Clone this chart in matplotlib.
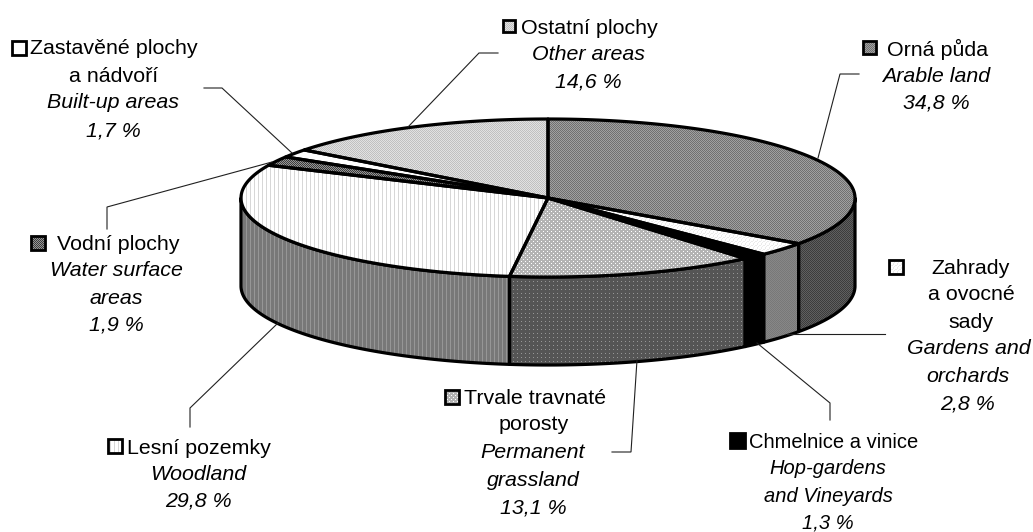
import numpy as np
import matplotlib
matplotlib.use("Agg")
import matplotlib.pyplot as plt
from matplotlib.patches import Polygon, Rectangle

plt.rcParams["font.family"] = ["Liberation Sans", "DejaVu Sans"]

# values, clockwise from 12 o'clock
categories = ["Orná půda", "Zahrady a ovocné sady", "Chmelnice a vinice",
              "Trvale travnaté porosty", "Lesní pozemky", "Vodní plochy",
              "Zastavěné plochy a nádvoří", "Ostatní plochy"]
shares = [34.8, 2.8, 1.3, 13.1, 29.8, 1.9, 1.7, 14.6]

# dither tiles (grey levels), repeated over the image
top_tiles = [
    [[112, 160], [160, 112]],
    [[255, 235, 255, 255], [235, 255, 255, 235], [255, 255, 235, 255], [255, 235, 255, 255]],
    [[0]],
    [[180, 180, 180, 180], [180, 255, 180, 180], [180, 180, 180, 180], [180, 180, 180, 255]],
    [[255, 255, 215, 255]],
    [[60, 150], [150, 60]],
    [[255]],
    [[192, 225], [225, 192]],
]
side_tiles = [
    [[60, 95], [95, 60]],
    [[120, 135], [135, 120]],
    [[0]],
    [[85, 85, 85, 85], [85, 150, 85, 85], [85, 85, 85, 85], [85, 85, 85, 85]],
    [[120, 120, 150, 120]],
]

CX, CY, RX, RY, DEPTH = 548, 198, 307, 79, 88
W, H = 1033, 532

fig = plt.figure(figsize=(W / 100, H / 100), dpi=100)
ax = fig.add_axes([0, 0, 1, 1])
ax.set_xlim(0, W)
ax.set_ylim(H, 0)
ax.axis("off")


def rim(a, b, dy=0.0):
    t = np.radians(np.linspace(a, b, 120))
    return np.column_stack([CX + RX * np.sin(t), CY + dy - RY * np.cos(t)])


def textured(poly, tile, zorder):
    tile = np.array(tile)
    img = np.tile(tile, (H // tile.shape[0] + 1, W // tile.shape[1] + 1))[:H, :W]
    im = ax.imshow(img, cmap="gray", vmin=0, vmax=255, extent=(0, W, H, 0),
                   interpolation="nearest", aspect="auto", zorder=zorder)
    patch = Polygon(poly, closed=True, transform=ax.transData, fc="none", ec="none")
    ax.add_patch(patch)
    im.set_clip_path(patch)


edges = np.concatenate([[0], np.cumsum(shares)]) * 3.6

# sides only for the front half of the drum
for i, tile in enumerate(side_tiles):
    a, b = max(edges[i], 90), min(edges[i + 1], 270)
    poly = np.vstack([rim(a, b), rim(b, a, DEPTH)])
    textured(poly, tile, 1)
    ax.add_patch(Polygon(poly, closed=True, fc="none", ec="black", lw=2.3,
                         joinstyle="round", zorder=2))

# top of the pie
for i, tile in enumerate(top_tiles):
    poly = np.vstack([[CX, CY], rim(edges[i], edges[i + 1])])
    textured(poly, tile, 3)
    ax.add_patch(Polygon(poly, closed=True, fc="none", ec="black", lw=2.3,
                         joinstyle="round", zorder=4))

# leader lines
leaders = [
    [(818, 158), (840, 74), (859, 74)],
    [(787, 334), (885, 334)],
    [(757, 343), (830, 403), (830, 420)],
    [(637, 360), (631, 452), (612, 452)],
    [(278, 323), (190, 408), (190, 427)],
    [(272, 162), (107, 207), (107, 229)],
    [(292, 153), (222, 88), (204, 88)],
    [(408, 127), (479, 53), (498, 53)],
]
for pts in leaders:
    xs, ys = zip(*pts)
    ax.plot(xs, ys, color="#202020", lw=0.8, zorder=5, solid_joinstyle="miter")

# legend keys: x, y, size, tile index
keys = [(863, 41, 13, 0), (889, 260, 14, 1), (730, 433, 15, 2), (445, 390, 14, 3),
        (108, 439, 14, 4), (31, 236, 14, 5), (12, 41, 14, 6), (503, 20, 12, 7)]
for (x, y, s, idx) in keys:
    sq = [(x, y), (x + s, y), (x + s, y + s), (x, y + s)]
    textured(sq, top_tiles[idx], 5)
    ax.add_patch(Rectangle((x, y), s, s, fc="none", ec="black", lw=2.0, zorder=6))

# text lines: x centre, y centre, text, italic, font size
labels = [
    (114, 47, "Zastavěné plochy", False, 15.4), (114, 74, "a nádvoří", False, 15.4),
    (113, 101, "Built-up areas", True, 15.4), (113, 129, "1,7 %", True, 15.4),
    (589, 26, "Ostatní plochy", False, 15.4), (588, 52, "Other areas", True, 15.4),
    (588, 80, "14,6 %", True, 15.4),
    (938, 47, "Orná půda", False, 15.4), (936, 74, "Arable land", True, 15.4),
    (936, 101, "34,8 %", True, 15.4),
    (971, 266, "Zahrady", False, 15.4), (971, 293, "a ovocné", False, 15.4),
    (971, 321, "sady", False, 15.4), (969, 347, "Gardens and", True, 15.4),
    (968, 375, "orchards", True, 15.4), (968, 402, "2,8 %", True, 15.4),
    (834, 440, "Chmelnice a vinice", False, 14.5), (828, 467, "Hop-gardens", True, 14.5),
    (828, 494, "and Vineyards", True, 14.5), (828, 521, "1,3 %", True, 14.5),
    (535, 396, "Trvale travnaté", False, 15.4), (534, 423, "porosty", False, 15.4),
    (533, 451, "Permanent", True, 15.4), (533, 478, "grassland", True, 15.4),
    (533, 506, "13,1 %", True, 15.4),
    (199, 446, "Lesní pozemky", False, 15.4), (198, 472, "Woodland", True, 15.4),
    (198, 499, "29,8 %", True, 15.4),
    (118, 242, "Vodní plochy", False, 15.4), (116, 269, "Water surface", True, 15.4),
    (116, 297, "areas", True, 15.4), (116, 323, "1,9 %", True, 15.4),
]
for x, y, s, it, fs in labels:
    ax.text(x, y, s, ha="center", va="center_baseline", fontsize=fs,
            style="italic" if it else "normal", color="black", zorder=7)

fig.savefig("out.png", dpi=100)
